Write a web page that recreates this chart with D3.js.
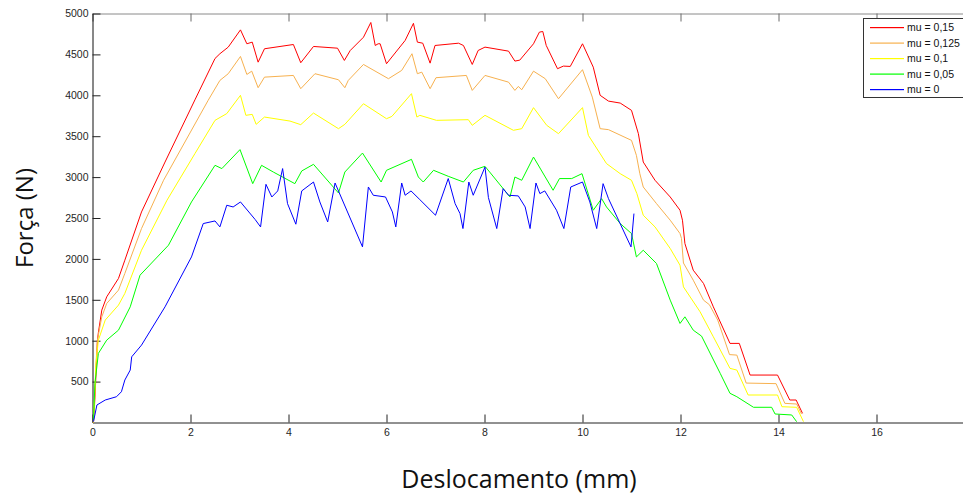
<!DOCTYPE html>
<html>
<head>
<meta charset="utf-8">
<script src="https://cdn.jsdelivr.net/npm/d3@7"></script>
<style>
  body { margin: 0; background: #fff; }
  svg { display: block; }
  .tick text { font-family: "Liberation Sans", Arial, sans-serif; font-size: 10.5px; fill: #262626; }
</style>
</head>
<body>
<svg id="canvas" width="963" height="496"></svg>
<script>
// curves: [deslocamento (mm), força (N)]
var mu015 = [[0.02,0],[0.05,300],[0.08,700],[0.1,1000],[0.12,1100],[0.19,1374],[0.29,1536],[0.53,1761],[0.66,1984],[1.0,2574],[1.48,3184],[2.09,3944],[2.5,4450],[2.6,4508],[2.77,4589],[3.02,4800],[3.15,4630],[3.26,4650],[3.38,4405],[3.51,4569],[4.1,4621],[4.25,4398],[4.51,4597],[5.0,4576],[5.14,4426],[5.26,4548],[5.53,4710],[5.68,4890],[5.77,4609],[5.83,4630],[5.87,4630],[6.0,4386],[6.38,4670],[6.55,4880],[6.63,4650],[6.74,4637],[6.89,4393],[6.99,4609],[7.47,4637],[7.57,4609],[7.75,4377],[7.87,4548],[8.01,4589],[8.49,4540],[8.62,4418],[8.72,4430],[9.0,4630],[9.12,4772],[9.19,4780],[9.26,4609],[9.49,4325],[9.61,4357],[9.75,4353],[10.0,4630],[10.22,4344],[10.36,4000],[10.53,3929],[10.77,3905],[11.0,3816],[11.14,3531],[11.24,3184],[11.48,2961],[11.79,2757],[11.99,2595],[12.04,2473],[12.09,2188],[12.26,1862],[12.47,1700],[12.67,1414],[13.01,967],[13.2,967],[13.42,580],[13.98,580],[14.23,275],[14.36,275],[14.49,112]]
var mu0125 = [[0.02,0],[0.05,400],[0.08,800],[0.1,1007],[0.19,1292],[0.29,1455],[0.53,1618],[0.66,1822],[1.0,2371],[1.45,2961],[2.36,3938],[2.6,4182],[2.77,4264],[3.02,4475],[3.15,4255],[3.25,4295],[3.38,4093],[3.51,4222],[4.1,4243],[4.25,4081],[4.54,4264],[5.02,4190],[5.15,4093],[5.22,4182],[5.53,4377],[6.04,4203],[6.31,4304],[6.52,4508],[6.63,4264],[6.72,4283],[6.89,4081],[7.01,4215],[7.63,4243],[7.75,4060],[8.01,4243],[8.49,4161],[8.62,4060],[8.69,4108],[8.76,4068],[9.0,4295],[9.24,4203],[9.51,3958],[10.0,4313],[10.2,3978],[10.36,3592],[10.53,3580],[11.0,3449],[11.1,3266],[11.17,3042],[11.24,2879],[11.51,2676],[11.79,2473],[11.99,2310],[12.02,2250],[12.06,1950],[12.26,1740],[12.47,1496],[12.59,1440],[12.76,1252],[13.0,830],[13.15,824],[13.34,482],[13.95,475],[14.13,234],[14.37,226],[14.47,104]]
var mu01 = [[0.02,0],[0.05,400],[0.07,723],[0.12,1007],[0.26,1252],[0.53,1435],[0.66,1578],[1.0,2106],[1.52,2717],[2.09,3287],[2.5,3694],[2.74,3776],[3.02,4000],[3.13,3755],[3.26,3767],[3.34,3645],[3.51,3734],[4.03,3685],[4.25,3641],[4.51,3783],[5.02,3592],[5.15,3645],[5.53,3897],[6.0,3714],[6.11,3742],[6.51,4020],[6.62,3734],[6.68,3755],[7.02,3694],[7.67,3702],[7.75,3633],[8.01,3755],[8.59,3572],[8.76,3592],[9.0,3849],[9.27,3633],[9.51,3531],[10.0,3849],[10.12,3510],[10.49,3165],[10.77,3042],[11.0,2961],[11.11,2798],[11.24,2534],[11.48,2391],[11.79,2127],[11.99,1923],[12.06,1658],[12.4,1353],[12.67,1048],[13.01,662],[13.15,641],[13.38,336],[13.98,336],[14.07,193],[14.37,186],[14.51,10]]
var mu005 = [[0.02,30],[0.05,479],[0.12,845],[0.29,1007],[0.53,1129],[0.77,1414],[0.97,1801],[1.55,2167],[2.02,2696],[2.5,3144],[2.64,3104],[3.01,3336],[3.27,2920],[3.45,3144],[3.69,3062],[4.13,2920],[4.27,3075],[4.51,3156],[5.02,2806],[5.15,3062],[5.51,3294],[5.89,2940],[6.0,3083],[6.51,3217],[6.65,3001],[6.75,2940],[6.96,3083],[7.26,3010],[7.57,2940],[7.77,3083],[8.01,3132],[8.52,2757],[8.62,3001],[8.76,2961],[9.0,3245],[9.4,2839],[9.53,2982],[9.78,2982],[9.99,3042],[10.22,2595],[10.39,2737],[10.49,2635],[10.77,2432],[11.0,2310],[11.1,2024],[11.24,2106],[11.51,1944],[11.79,1496],[11.99,1211],[12.09,1292],[12.26,1129],[12.43,1056],[12.81,601],[13.01,357],[13.15,315],[13.49,186],[13.86,186],[13.93,104],[14.27,92],[14.37,10]]
var mu0 = [[0.02,10],[0.09,214],[0.26,275],[0.49,315],[0.59,376],[0.66,519],[0.77,641],[0.8,803],[1.0,946],[1.48,1414],[2.02,2024],[2.26,2432],[2.5,2464],[2.6,2391],[2.74,2656],[2.87,2635],[3.02,2696],[3.32,2481],[3.43,2391],[3.54,2912],[3.66,2757],[3.78,2831],[3.88,3104],[3.98,2676],[4.15,2424],[4.27,2831],[4.51,2940],[4.64,2696],[4.8,2452],[4.95,2928],[5.51,2147],[5.63,2879],[5.73,2778],[5.98,2757],[6.12,2574],[6.19,2391],[6.31,2928],[6.38,2778],[6.5,2831],[6.68,2725],[7.0,2534],[7.26,2982],[7.4,2676],[7.5,2554],[7.56,2371],[7.68,2940],[7.77,2778],[8.01,3123],[8.08,2750],[8.25,2371],[8.38,2859],[8.49,2778],[8.69,2770],[8.83,2635],[8.93,2371],[9.05,2928],[9.13,2798],[9.23,2831],[9.47,2595],[9.62,2371],[9.76,2879],[10.0,2940],[10.15,2696],[10.29,2371],[10.42,2920],[10.53,2737],[10.99,2147],[11.05,2554]]

var seriesNames = ['mu = 0,15', 'mu = 0,125', 'mu = 0,1', 'mu = 0,05', 'mu = 0']
var seriesColors = ['#ff0000', '#f7b14f', '#ffff00', '#00ff00', '#0000ff']
var seriesData = [mu015, mu0125, mu01, mu005, mu0]

var xTicks = [0, 2, 4, 6, 8, 10, 12, 14, 16]
var yTicks = [500, 1000, 1500, 2000, 2500, 3000, 3500, 4000, 4500, 5000]

var svg = d3.select('#canvas')

var x = d3.scaleLinear().domain([0, 18]).range([92.5, 974.5])
var y = d3.scaleLinear().domain([0, 5000]).range([422.5, 13.5])

// top frame line (grey, ticks pointing down)
svg.append('g')
  .attr('transform', 'translate(0,' + y(5000) + ')')
  .call(d3.axisTop(x).tickValues(xTicks).tickSizeInner(-8).tickSizeOuter(0).tickFormat(''))
  .call(g => g.select('.domain').attr('stroke', '#8a8a8a'))
  .call(g => g.selectAll('.tick line').attr('stroke', '#6a6a6a'))

// bottom axis
svg.append('g')
  .attr('transform', 'translate(0,' + y(0) + ')')
  .call(d3.axisBottom(x).tickValues(xTicks).tickSizeInner(-8).tickSizeOuter(0).tickPadding(6).tickFormat(d3.format('d')))
  .call(g => g.select('.domain').attr('stroke', '#222'))
  .call(g => g.selectAll('.tick line').attr('stroke', '#222'))

// left axis
svg.append('g')
  .attr('transform', 'translate(' + x(0) + ',0)')
  .call(d3.axisLeft(y).tickValues(yTicks).tickSizeInner(-8).tickSizeOuter(0).tickPadding(4).tickFormat(d3.format('d')))
  .call(g => g.select('.domain').attr('stroke', '#111'))
  .call(g => g.selectAll('.tick line').attr('stroke', '#222'))

// the curves, blue drawn last
var line = d3.line().x(d => x(d[0])).y(d => y(d[1]))
seriesData.forEach(function(d, i) {
  svg.append('path')
    .datum(d)
    .attr('fill', 'none')
    .style('stroke', seriesColors[i])
    .style('stroke-width', 1)
    .attr('d', line)
})

// legend box
svg.append('rect')
  .attr('x', 863.5).attr('y', 18.5)
  .attr('width', 110).attr('height', 79)
  .style('fill', '#fff').style('stroke', '#333').style('stroke-width', 1)

var legendY = d3.scalePoint().domain(seriesNames).range([27.5, 89.5])

svg.selectAll('rect.key')
  .data(seriesNames)
  .enter()
  .append('rect')
  .attr('class', 'key')
  .attr('x', 870)
  .attr('y', d => legendY(d) - 0.5)
  .attr('width', 34)
  .attr('height', 1.2)
  .style('fill', (d, i) => seriesColors[i])

svg.selectAll('text.key')
  .data(seriesNames)
  .enter()
  .append('text')
  .attr('class', 'key')
  .attr('x', 907)
  .attr('y', d => legendY(d) + 3.8)
  .style('font-family', '"Liberation Sans", Arial, sans-serif')
  .style('font-size', '10.5px')
  .style('fill', '#111')
  .text(d => d)

// axis titles
svg.append('text')
  .attr('x', 519).attr('y', 488)
  .attr('text-anchor', 'middle')
  .style('font-family', '"Open Sans", sans-serif')
  .style('font-size', '25px')
  .style('fill', '#111')
  .text('Deslocamento (mm)')

svg.append('text')
  .attr('transform', 'translate(33,218) rotate(-90)')
  .attr('text-anchor', 'middle')
  .style('font-family', '"Open Sans", sans-serif')
  .style('font-size', '24px')
  .style('fill', '#111')
  .text('Força (N)')
</script>
</body>
</html>
